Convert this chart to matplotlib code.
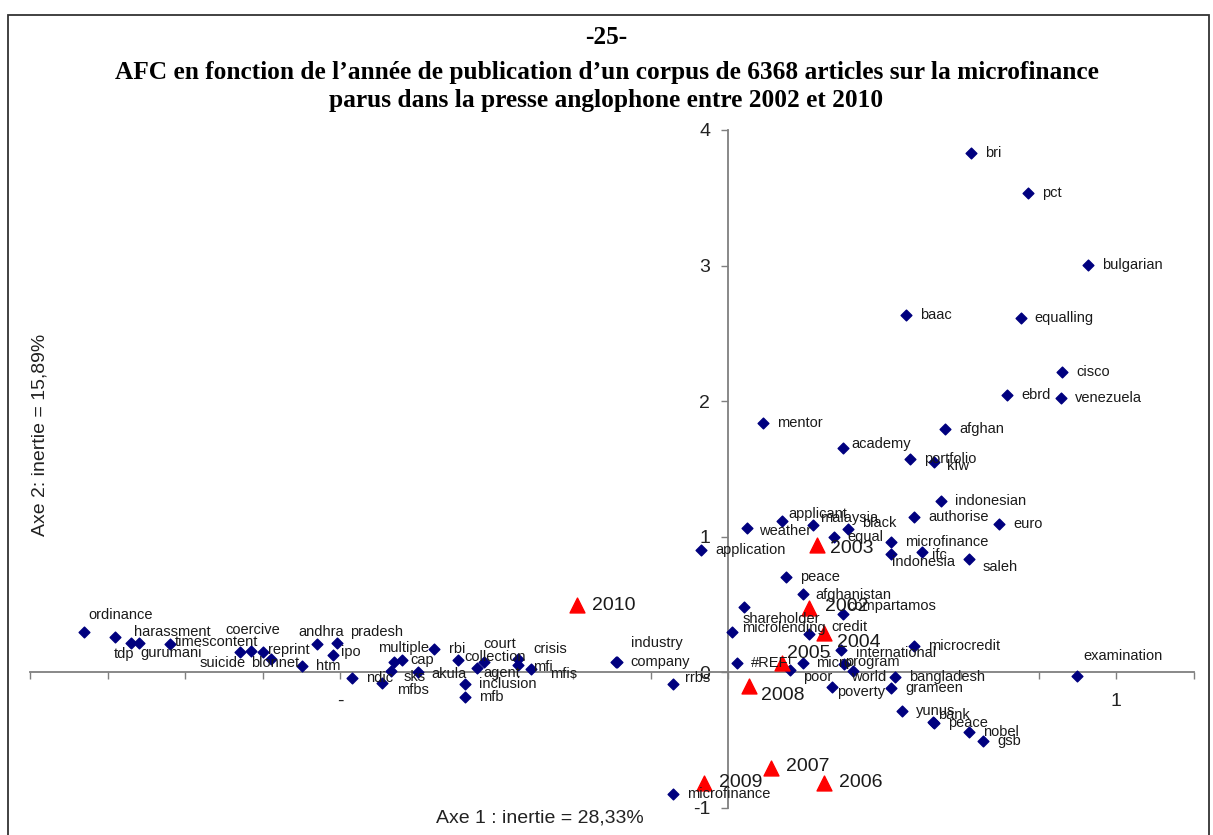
import matplotlib
matplotlib.use("Agg")
import matplotlib.pyplot as plt
import numpy as np
from matplotlib.patches import Rectangle

plt.rcParams['font.family'] = ['Liberation Sans', 'DejaVu Sans']

# word coordinates (axe 1, axe 2)
words = ['ordinance', 'harassment', 'tdp', 'gurumani', 'timescontent', 'suicide',
         'coercive', 'reprint', 'blonnet', 'htm', 'andhra', 'pradesh', 'ipo', 'ndic',
         'multiple', 'cap', 'sks', 'mfbs', 'akula', 'rbi', 'collection', 'agent',
         'court', 'inclusion', 'mfb', 'crisis', 'mfi', 'mfis', 'industry', 'company',
         'rrbs', '#REF!', 'shareholder', 'microlending', 'application', 'weather',
         'applicant', 'malaysia', 'black', 'equal', 'microfinance', 'indonesia', 'ifc',
         'saleh', 'authorise', 'indonesian', 'euro', 'peace', 'afghanistan',
         'compartamos', 'credit', 'international', 'microcredit', 'micro', 'program',
         'poor', 'world', 'bangladesh', 'examination', 'poverty', 'grameen', 'yunus',
         'bank', 'peace ', 'nobel', 'gsb', 'microfinance ', 'mentor', 'academy',
         'afghan', 'portfolio', 'kfw', 'ebrd', 'venezuela', 'bri', 'pct', 'bulgarian',
         'baac', 'equalling', 'cisco']
word_x = [-1.66, -1.58, -1.54, -1.52, -1.44, -1.26, -1.23, -1.20, -1.18, -1.10, -1.06,
          -1.01, -1.02, -0.97, -0.861, -0.840, -0.869, -0.892, -0.799, -0.760, -0.698,
          -0.649, -0.629, -0.680, -0.680, -0.541, -0.541, -0.510, -0.288, -0.289,
          -0.142, 0.021, 0.039, 0.010, -0.070, 0.049, 0.139, 0.219, 0.309, 0.271,
          0.420, 0.420, 0.500, 0.619, 0.479, 0.549, 0.698, 0.149, 0.191, 0.296, 0.209,
          0.289, 0.479, 0.191, 0.299, 0.160, 0.320, 0.430, 0.899, 0.268, 0.420, 0.448,
          0.528, 0.530, 0.619, 0.657, -0.142, 0.090, 0.296, 0.559, 0.469, 0.531, 0.719,
          0.858, 0.626, 0.773, 0.928, 0.459, 0.753, 0.861]
word_y = [0.295, 0.26, 0.22, 0.22, 0.21, 0.15, 0.155, 0.15, 0.10, 0.05, 0.21, 0.22,
          0.13, -0.04, 0.074, 0.089, 0.007, -0.081, 0.0, 0.170, 0.089, 0.03, 0.074,
          -0.089, -0.185, 0.096, 0.052, 0.022, 0.075, 0.074, -0.089, 0.066, 0.48,
          0.30, 0.90, 1.063, 1.12, 1.09, 1.055, 0.996, 0.959, 0.871, 0.886, 0.834,
          1.144, 1.262, 1.092, 0.701, 0.576, 0.428, 0.280, 0.162, 0.192, 0.066, 0.059,
          0.015, 0.007, -0.037, -0.030, -0.111, -0.118, -0.288, -0.369, -0.372,
          -0.443, -0.509, -0.90, 1.838, 1.653, 1.793, 1.572, 1.55, 2.044, 2.022,
          3.830, 3.535, 3.004, 2.635, 2.613, 2.214]

# publication years
years = ['2002', '2003', '2004', '2005', '2006', '2007', '2008', '2009', '2010']
year_x = [0.209, 0.229, 0.247, 0.139, 0.247, 0.111, 0.052, -0.062, -0.389]
year_y = [0.472, 0.937, 0.288, 0.066, -0.812, -0.708, -0.103, -0.812, 0.494]

# label placement, pixels right / up from the marker (default 14, 0)
label_offsets = {
    'ordinance': (4, 17), 'harassment': (19, 5), 'tdp': (-17, -11), 'gurumani': (2, -10),
    'timescontent': (5, 2), 'suicide': (-40, -11), 'coercive': (-26, 21),
    'reprint': (5, 2), 'blonnet': (-20, -4), 'andhra': (-19, 12), 'pradesh': (14, 11),
    'ipo': (8, 3), 'multiple': (-16, 14), 'cap': (8, 0), 'sks': (12, -6),
    'mfbs': (15, -7), 'akula': (13, -2), 'rbi': (15, 0), 'collection': (7, 3),
    'agent': (7, -5), 'court': (-1, 18), 'crisis': (15, 10), 'mfi': (15, -2),
    'mfis': (20, -5), 'industry': (14, 19), 'rrbs': (12, 6), 'shareholder': (-1, -12),
    'microlending': (10, 4), 'weather': (12, -3), 'applicant': (6, 7),
    'malaysia': (7, 7), 'black': (14, 6), 'indonesia': (1, -8), 'ifc': (10, -3),
    'saleh': (14, -8), 'afghanistan': (13, -1), 'compartamos': (4, 8),
    'credit': (22, 7), 'international': (15, -3), 'program': (1, 2), 'poor': (13, -7),
    'world': (-2, -6), 'examination': (6, 20), 'poverty': (5, -5), 'bank': (5, 7),
    'academy': (8, 4), 'kfw': (13, -4),
    '2002': (16, 2), '2003': (13, -3), '2004': (13, -9), '2005': (5, 10),
    '2007': (15, 2), '2008': (12, -9),
}

W, H = 1213, 835
fig = plt.figure(figsize=(W / 100, H / 100), dpi=100)
ax = fig.add_axes([30 / W, (H - 808) / H, 1164 / W, 678 / H])
ax.set_xlim(-1.8, 1.2)
ax.set_ylim(-1, 4)

for s in ['top', 'right']:
    ax.spines[s].set_visible(False)
ax.spines['left'].set_position(('data', 0))
ax.spines['bottom'].set_position(('data', 0))
ax.spines['left'].set_bounds(-1, 4)
ax.spines['bottom'].set_bounds(-1.8, 1.2)
for s in ['left', 'bottom']:
    ax.spines[s].set_color('#7f7f7f')
    ax.spines[s].set_linewidth(1.3)

xt = np.round(np.arange(-1.8, 1.21, 0.2), 1)
ax.set_xticks(xt)
ax.set_xticklabels(['-' if v == -1 else ('1' if v == 1 else '') for v in xt])
ax.set_yticks([-1, 0, 1, 2, 3, 4])
ax.set_yticklabels(['-1', '0', '1', '2', '3', '4'])
ax.tick_params(axis='both', direction='out', length=5, width=1, color='#7f7f7f',
               labelsize=14, labelcolor='#222222')
ax.tick_params(axis='x', pad=10)
ax.tick_params(axis='y', pad=8)

ax.scatter(word_x, word_y, marker='D', s=30, color='#00007f', zorder=3, clip_on=False)
ax.scatter(year_x, year_y, marker='^', s=115, color='#ff0000', zorder=4, clip_on=False)

def px(v):
    return v * 0.72

for w, x, y in zip(words, word_x, word_y):
    dx, dy = label_offsets.get(w, (14, 0))
    ax.annotate(w.strip(), (x, y), xytext=(px(dx), px(dy)), textcoords='offset points',
                ha='left', va='center', fontsize=10.5, color='#1a1a1a',
                annotation_clip=False, zorder=5)

for w, x, y in zip(years, year_x, year_y):
    dx, dy = label_offsets.get(w, (15, 0))
    ax.annotate(w, (x, y), xytext=(px(dx), px(dy)), textcoords='offset points',
                ha='left', va='center', fontsize=14, color='#1a1a1a',
                annotation_clip=False, zorder=5)

fig.text(540 / W, 1 - 818 / H, 'Axe 1 : inertie = 28,33%', ha='center', va='center',
         fontsize=14, color='#222222')
fig.text(40 / W, 1 - 435 / H, 'Axe 2: inertie = 15,89%', ha='center', va='center',
         rotation=90, fontsize=14, color='#222222')

serif = ['Liberation Serif', 'DejaVu Serif']
fig.text(0.5, 1 - 38 / H, '-25-', ha='center', va='center', fontsize=18.3,
         fontweight='bold', family=serif)
fig.text(0.5, 1 - 73 / H,
         'AFC en fonction de l\u2019ann\u00e9e de publication d\u2019un corpus de 6368 articles sur la microfinance',
         ha='center', va='center', fontsize=18.3, fontweight='bold', family=serif)
fig.text(0.5, 1 - 100 / H, 'parus dans la presse anglophone entre 2002 et 2010',
         ha='center', va='center', fontsize=18.3, fontweight='bold', family=serif)

fig.add_artist(Rectangle((8 / W, -0.01), (1209 - 8) / W, 1 - 15 / H + 0.01,
                         transform=fig.transFigure, fill=False, lw=1.3,
                         edgecolor='#333333'))

fig.savefig('out.png', dpi=100)
